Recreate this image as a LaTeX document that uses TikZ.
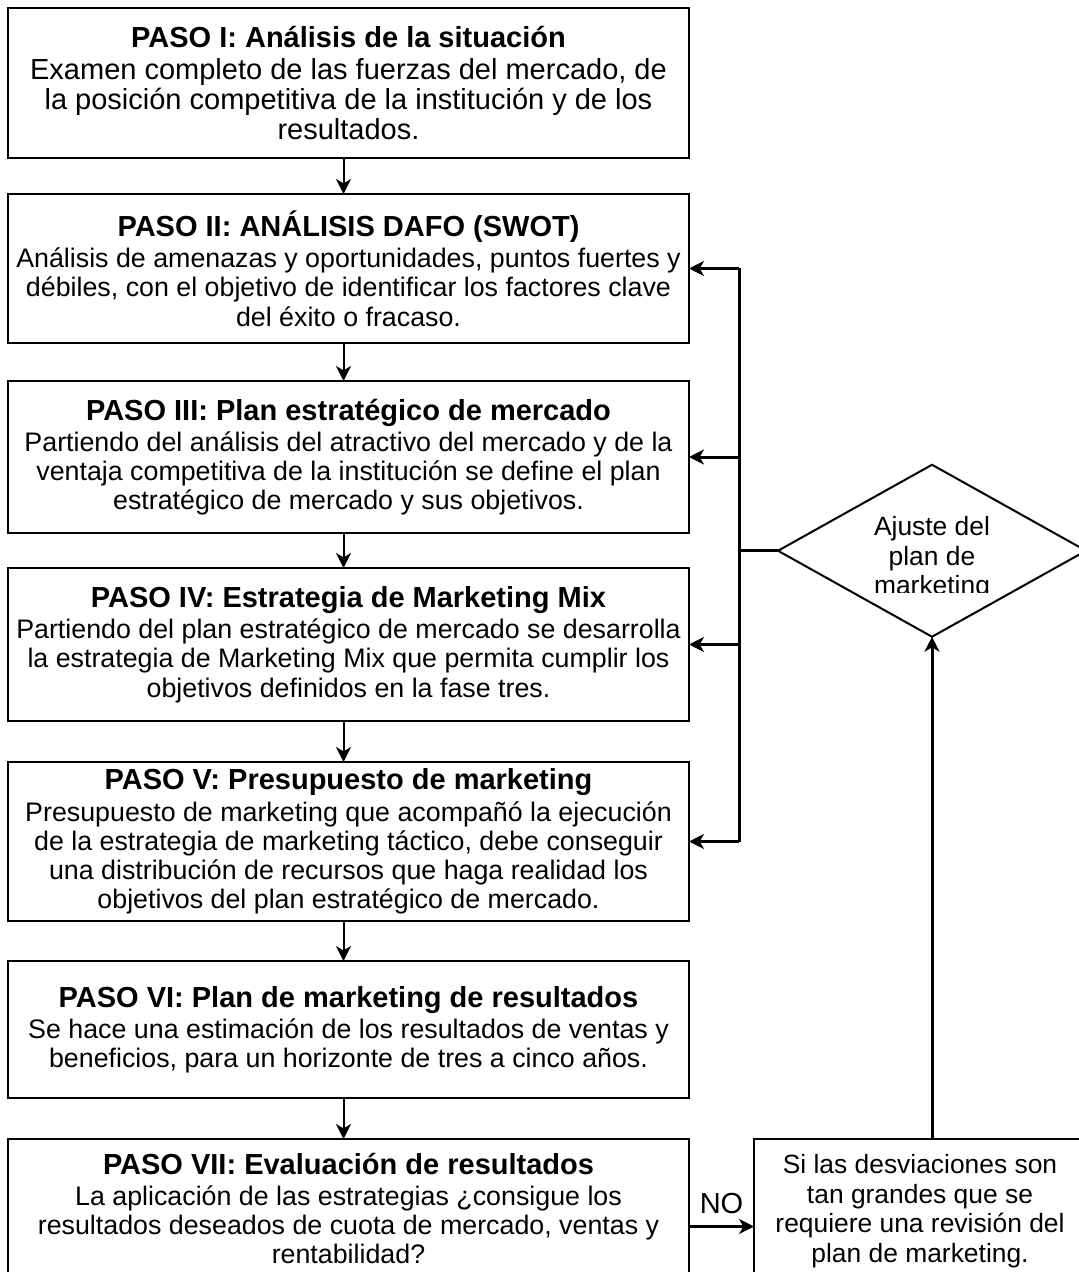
\documentclass[tikz,border=0pt]{standalone}
\usepackage{fontspec}
\setmainfont{Liberation Sans}
\usetikzlibrary{arrows.meta, positioning, shapes, calc}
\newcommand{\titulo}[1]{{\fontsize{14.5}{15}\selectfont\bfseries #1}}
\tikzset{
        ->, % connectors are directed
        >={Stealth[length=7.5pt, width=7.5pt, inset=2.2pt]}, % arrow heads
        x=0.5pt, y=-0.5pt, % one unit is one pixel of the layout
        paso/.style={draw, line width=1pt, outer sep=0pt, minimum width=340.5pt, inner xsep=2pt, inner ysep=1pt, align=center, font=\fontsize{13.4}{14.6}\selectfont}, % the seven steps
        nota/.style={draw, line width=1pt, outer sep=0pt, minimum width=166pt, inner xsep=2pt, align=center, font=\fontsize{13.2}{14.8}\selectfont},
        flecha/.style={line width=1pt},
        retro/.style={line width=1.5pt},
    }

\begin{document}
\begin{tikzpicture}
    \useasboundingbox (0,0) rectangle (1078,1272);
    \node[paso, minimum height=75pt, font=\fontsize{14.5}{15}\selectfont] (1) at (348.5,83) {\titulo{PASO I: Análisis de la situación}\\[1pt]
      Examen completo de las fuerzas del mercado, de\\la posición competitiva de la institución y de los\\resultados.};
    \node[paso, minimum height=74.5pt, below=18pt of 1] (2) {\titulo{PASO II: ANÁLISIS DAFO (SWOT)}\\[1pt]
      Análisis de amenazas y oportunidades, puntos fuertes y\\débiles, con el objetivo de identificar los factores clave\\del éxito o fracaso.};
    \node[paso, minimum height=76pt, below=19pt of 2] (3) {\titulo{PASO III: Plan estratégico de mercado}\\[1pt]
      Partiendo del análisis del atractivo del mercado y de la\\ventaja competitiva de la institución se define el plan\\estratégico de mercado y sus objetivos.};
    \node[paso, minimum height=76.5pt, below=17.5pt of 3] (4) {\titulo{PASO IV: Estrategia de Marketing Mix}\\[1pt]
      Partiendo del plan estratégico de mercado se desarrolla\\la estrategia de Marketing Mix que permita cumplir los\\objetivos definidos en la fase tres.};
    \node[paso, minimum height=79.5pt, below=20.5pt of 4] (5) {\titulo{PASO V: Presupuesto de marketing}\\[1pt]
      Presupuesto de marketing que acompañó la ejecución\\de la estrategia de marketing táctico, debe conseguir\\una distribución de recursos que haga realidad los\\objetivos del plan estratégico de mercado.};
    \node[paso, minimum height=68.5pt, below=20pt of 5] (6) {\titulo{PASO VI: Plan de marketing de resultados}\\[1pt]
      Se hace una estimación de los resultados de ventas y\\beneficios, para un horizonte de tres a cinco años.};
    \node[paso, minimum height=69.5pt, below=20.5pt of 6] (7) {\titulo{PASO VII: Evaluación de resultados}\\[1pt]
      La aplicación de las estrategias ¿consigue los\\resultados deseados de cuota de mercado, ventas y\\rentabilidad?};
    \node[nota, minimum height=72pt, right=32.5pt of 7.north east, anchor=north west] (9) {Si las desviaciones son\\tan grandes que se\\requiere una revisión del\\plan de marketing.};
    % rombo de ajuste
    \node[diamond, draw, line width=1pt, outer sep=0pt, minimum width=154pt, minimum height=86pt, inner sep=0pt, anchor=west, xshift=44.5pt] (8) at ($(3.east)!0.5!(4.east)$) {};
    \begin{scope}
      \clip (8.west |- 8.north) rectangle ([yshift=-21pt]8.east);
      \node[align=center, font=\fontsize{13.2}{14.6}\selectfont] (8t) at ([yshift=-3.75pt]8.center) {Ajuste del\\plan de\\marketing};
    \end{scope}
    \coordinate (bus) at ([xshift=25pt]2.east);
    \draw[flecha, -]
      ([xshift=-2.5pt]1.south) edge[->] ([xshift=-2.5pt]2.north)
      ([xshift=-2.5pt]2.south) edge[->] ([xshift=-2.5pt]3.north)
      ([xshift=-2.5pt]3.south) edge[->] ([xshift=-2.5pt]4.north)
      ([xshift=-2.5pt]4.south) edge[->] ([xshift=-2.5pt]5.north)
      ([xshift=-2.5pt]5.south) edge[->] ([xshift=-2.5pt]6.north)
      ([xshift=-2.5pt]6.south) edge[->] ([xshift=-2.5pt]7.north);
    \draw[retro, -] (bus) -- (bus |- 5.east);
    \draw[retro, -] (8.west) -- (8.west -| bus);
    \draw[retro, -]
      (bus |- 2.east) edge[->] (2.east)
      (bus |- 3.east) edge[->] (3.east)
      (bus |- 4.east) edge[->] (4.east)
      (bus |- 5.east) edge[->] (5.east)
      (9.north -| 8.south) edge[->] (8.south);
    \draw[retro] ([yshift=-9pt]7.east) -- ([yshift=-9pt]7.east -| 9.west) node[midway, above=2.5pt, font=\fontsize{14.5}{15}\selectfont] (no) {NO};
  \end{tikzpicture}
\end{document}
